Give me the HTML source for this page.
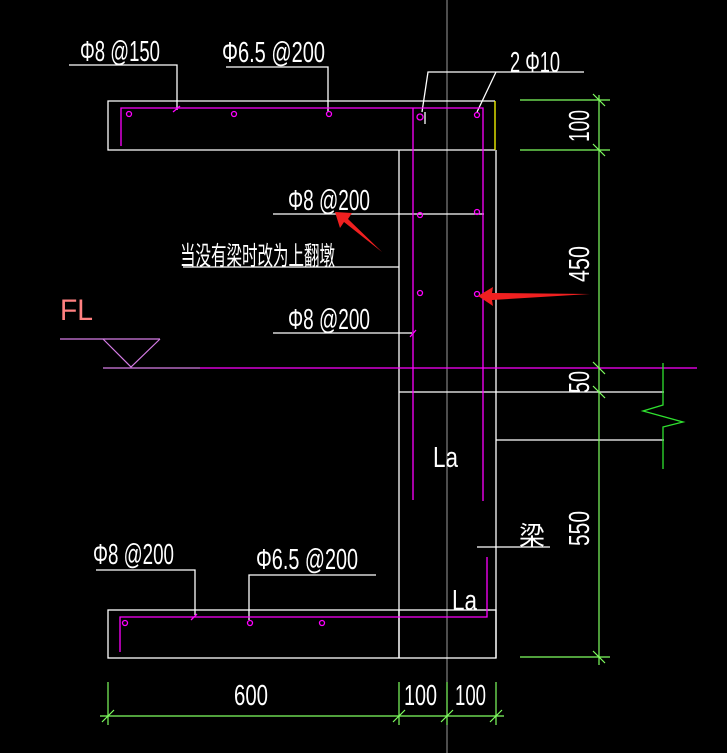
<!DOCTYPE html>
<html><head><meta charset="utf-8"><style>html,body{margin:0;padding:0;background:#000;}svg{display:block}</style></head><body>
<svg width="727" height="753" viewBox="0 0 727 753" xmlns="http://www.w3.org/2000/svg" font-family="Liberation Sans, Noto Sans CJK SC, sans-serif">
<rect width="727" height="753" fill="#000"/>
<line x1="447" y1="0" x2="447" y2="753" stroke="#9a9a9a" stroke-width="1"/>
<g stroke="#fff" stroke-width="1.3" fill="none">
<polyline points="495,101 108,101 108,150 399,150"/>
<line x1="399" y1="150" x2="495" y2="150"/>
<line x1="399" y1="150" x2="399" y2="658"/>
<line x1="496" y1="150" x2="496" y2="658"/>
<line x1="399" y1="392" x2="664" y2="392"/>
<line x1="496" y1="440" x2="664" y2="440"/>
<rect x="108" y="610" width="388" height="48"/>
<line x1="399" y1="610" x2="399" y2="658"/>
<polyline points="69,65 177,65 177,110"/>
<polyline points="226,67 328,67 328,112"/>
<polyline points="584,72 428,72 422,112"/>
<line x1="496" y1="72" x2="477" y2="112"/>
<line x1="425" y1="112" x2="425" y2="124"/>
<line x1="273" y1="214" x2="484" y2="214"/>
<line x1="183" y1="267" x2="399" y2="267"/>
<line x1="273" y1="333" x2="412" y2="333"/>
<polyline points="96,570 195,570 195,615"/>
<polyline points="376,575 249,575 249,620"/>
<line x1="477" y1="547" x2="550" y2="547"/>
</g>
<line x1="495" y1="101" x2="495" y2="150" stroke="#ff0" stroke-width="1.3"/>
<g stroke="#ff00ff" stroke-width="1.3" fill="none">
<polyline points="121,146 121,108 483,108 483,501"/>
<line x1="413" y1="108" x2="413" y2="500"/>
<polyline points="120,652 120,617 487,617 487,557"/>
<line x1="200" y1="368" x2="697" y2="368"/>
<line x1="173" y1="112" x2="180" y2="106"/><line x1="410" y1="337" x2="416" y2="330"/>
<line x1="191" y1="620" x2="197" y2="614"/>
<circle cx="129" cy="114" r="2.5"/><circle cx="234" cy="114" r="2.5"/><circle cx="329" cy="114" r="2.5"/><circle cx="420" cy="117" r="3"/><circle cx="477" cy="115" r="2.5"/>
<circle cx="420" cy="215" r="2.5"/><circle cx="477" cy="212" r="2.5"/><circle cx="420" cy="293" r="2.5"/><circle cx="477" cy="294" r="2.5"/>
<circle cx="125" cy="623" r="2.5"/><circle cx="250" cy="623" r="2.5"/><circle cx="322" cy="623" r="2.5"/>
</g>
<g stroke="#d67ce6" stroke-width="1.2" fill="none">
<line x1="60" y1="339" x2="160" y2="339"/>
<polyline points="103,339 131,367 160,339"/>
<line x1="103" y1="368" x2="200" y2="368"/>
</g>
<text x="60" y="320" fill="#ff8080" font-size="30" textLength="33" lengthAdjust="spacingAndGlyphs">FL</text>
<g stroke="#7fff5f" stroke-width="1.2" fill="none">
<line x1="599" y1="95" x2="599" y2="665"/>
<line x1="520" y1="100" x2="610" y2="100"/>
<line x1="520" y1="150" x2="610" y2="150"/>
<line x1="520" y1="657" x2="610" y2="657"/>
<line x1="593" y1="94" x2="605" y2="106"/><line x1="593" y1="144" x2="605" y2="156"/>
<line x1="593" y1="362" x2="605" y2="374"/><line x1="593" y1="386" x2="605" y2="398"/>
<line x1="593" y1="651" x2="605" y2="663"/>
<line x1="100" y1="716" x2="504" y2="716"/>
<line x1="108" y1="682" x2="108" y2="725"/><line x1="399" y1="682" x2="399" y2="725"/><line x1="447" y1="682" x2="447" y2="725"/><line x1="496" y1="682" x2="496" y2="725"/>
<line x1="102" y1="722" x2="114" y2="710"/><line x1="393" y1="722" x2="405" y2="710"/><line x1="441" y1="722" x2="453" y2="710"/><line x1="490" y1="722" x2="502" y2="710"/>
</g>
<polyline points="663,363 663,405 643,411 683,422 663,427 663,469" stroke="#2fe02f" stroke-width="1.3" fill="none"/>
<polygon points="335,212 352,213 348,219 382,252 344,222 340,228" fill="#f02020"/>
<polygon points="478,296 493,287 492,293 590,294 492,300 493,306" fill="#f02020"/>
<g fill="#fff" font-size="29">
<text x="80" y="61" textLength="80" lengthAdjust="spacingAndGlyphs">Φ8 @150</text>
<text x="222" y="62" textLength="103" lengthAdjust="spacingAndGlyphs">Φ6.5 @200</text>
<text x="510" y="72" textLength="50" lengthAdjust="spacingAndGlyphs">2 Φ10</text>
<text x="288" y="210" textLength="82" lengthAdjust="spacingAndGlyphs">Φ8 @200</text>
<text x="288" y="329" textLength="82" lengthAdjust="spacingAndGlyphs">Φ8 @200</text>
<text x="180" y="265" font-size="26" textLength="155" lengthAdjust="spacingAndGlyphs">当没有梁时改为上翻墩</text>
<text x="93" y="564" textLength="81" lengthAdjust="spacingAndGlyphs">Φ8 @200</text>
<text x="256" y="569" textLength="102" lengthAdjust="spacingAndGlyphs">Φ6.5 @200</text>
<text x="433" y="467" textLength="25" lengthAdjust="spacingAndGlyphs">La</text>
<text x="452" y="610" textLength="25" lengthAdjust="spacingAndGlyphs">La</text>
<text x="519" y="545" font-size="26" textLength="26" lengthAdjust="spacingAndGlyphs">梁</text>
<text x="234" y="705" textLength="34" lengthAdjust="spacingAndGlyphs">600</text>
<text x="404" y="705" textLength="33" lengthAdjust="spacingAndGlyphs">100</text>
<text x="455" y="705" textLength="31" lengthAdjust="spacingAndGlyphs">100</text>
<text transform="translate(589,142) rotate(-90)" textLength="32" lengthAdjust="spacingAndGlyphs">100</text>
<text transform="translate(589,282) rotate(-90)" textLength="36" lengthAdjust="spacingAndGlyphs">450</text>
<text transform="translate(589,393) rotate(-90)" textLength="22" lengthAdjust="spacingAndGlyphs">50</text>
<text transform="translate(589,546) rotate(-90)" textLength="35" lengthAdjust="spacingAndGlyphs">550</text>
</g>
</svg>
</body></html>
